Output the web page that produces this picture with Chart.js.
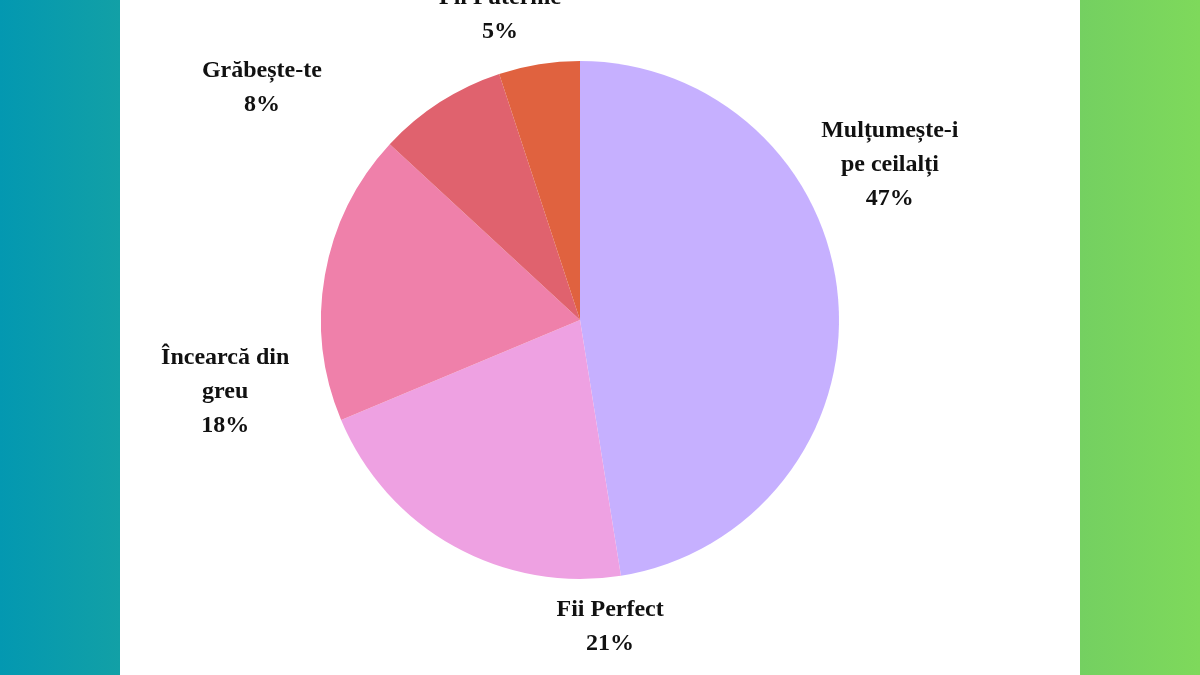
<!DOCTYPE html>
<html>
<head>
<meta charset="utf-8">
<script src="https://cdn.jsdelivr.net/npm/chart.js@4"></script>
<style>
    html, body { margin: 0; padding: 0; }
    body { width: 1200px; height: 675px; position: relative; overflow: hidden; background: #ffffff; }
    .strip { position: absolute; top: 0; width: 120px; height: 675px; }
    .strip.left { left: 0; background: linear-gradient(to right, #0398b1, #12a0a6); }
    .strip.right { right: 0; background: linear-gradient(to right, #74d061, #7ed95b); }
    #wrap { position: absolute; left: 0; top: 0; width: 1200px; height: 675px; }
</style>
</head>
<body>
<div class="strip left"></div>
<div class="strip right"></div>
<div id="wrap"><canvas id="pieChart"></canvas></div>
<script>
// Chart data
const categories = [
    ['Mulțumește-i', 'pe ceilalți'],
    ['Fii Perfect'],
    ['Încearcă din', 'greu'],
    ['Grăbește-te'],
    ['Fii Puternic']
];
const shares = [47, 21, 18, 8, 5];
const sliceColors = ['#c6b0ff', '#eea1e2', '#ef80aa', '#e0626e', '#e0623f'];

// Where each label sits around the pie (angle from top, clockwise; distance as multiple of radius)
const labelPlacement = [
    { angle: 63.4, dist: 1.338 },
    { angle: 174.4, dist: 1.191 },
    { angle: 258.5, dist: 1.398 },
    { angle: 306.1, dist: 1.52 },
    { angle: 345.3, dist: 1.217 }
];

// Draw outside labels with name and percentage
const outsideLabels = {
    id: 'outsideLabels',
    afterDatasetsDraw(chart) {
        const ctx = chart.ctx;
        const meta = chart.getDatasetMeta(0);
        const lineH = 34;
        ctx.save();
        ctx.font = 'bold 24px "Liberation Serif", "DejaVu Serif", serif';
        ctx.fillStyle = '#111111';
        ctx.textAlign = 'center';
        ctx.textBaseline = 'middle';
        meta.data.forEach((arc, i) => {
            const p = labelPlacement[i];
            const a = p.angle * Math.PI / 180;
            const cx = arc.x + Math.sin(a) * arc.outerRadius * p.dist;
            const cy = arc.y - Math.cos(a) * arc.outerRadius * p.dist;
            const lines = categories[i].concat([shares[i] + '%']);
            const top = cy - (lines.length - 1) * lineH / 2;
            lines.forEach((txt, j) => {
                ctx.fillText(txt, cx, top + j * lineH);
            });
        });
        ctx.restore();
    }
};

const pieCtx = document.getElementById('pieChart').getContext('2d');
const pieChart = new Chart(pieCtx, {
    type: 'pie',
    data: {
        labels: categories.map(c => c.join(' ')),
        datasets: [{
            data: shares,
            backgroundColor: sliceColors,
            borderWidth: 0
        }]
    },
    options: {
        responsive: true,
        maintainAspectRatio: false,
        animation: false,
        layout: {
            padding: { left: 0, right: 40, top: 61, bottom: 96 }
        },
        plugins: {
            legend: { display: false },
            tooltip: { enabled: false }
        }
    },
    plugins: [outsideLabels]
});
</script>
</body>
</html>
